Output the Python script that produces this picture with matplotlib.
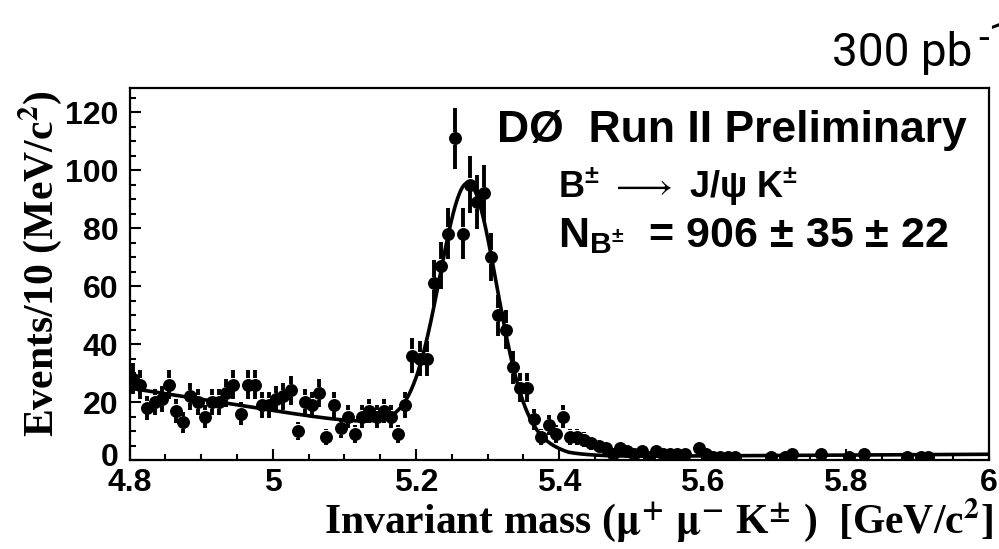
import numpy as np
import matplotlib
matplotlib.use("Agg")
import matplotlib.pyplot as plt
import matplotlib.transforms as mtransforms
from matplotlib.ticker import MultipleLocator

# ---------------- data ----------------
hist_low = 4.80
hist_high = 6.00
bin_width = 0.01

counts = [
    28, 26, 18, 20, 21, 26, 17, 13, 22, 20,   # 4.80-4.90
    15, 20, 20, 23, 26, 16, 26, 26, 19, 19,   # 4.90-5.00
    21, 22, 24, 10, 20, 19, 23, 8, 19, 11,    # 5.00-5.10
    15, 9, 15, 17, 15, 17, 15, 9, 19, 36,     # 5.10-5.20
    35, 35, 61, 67, 78, 111, 78, 95, 89, 92,  # 5.20-5.30
    70, 50, 45, 32, 25, 25, 14, 8, 12, 9,     # 5.30-5.40
    15, 8, 8, 7, 6, 5, 4, 2, 4, 3,            # 5.40-5.50
    2, 3, 1, 3, 2, 2, 2, 2, 0, 4,             # 5.50-5.60
    2, 1, 1, 1, 1, 0, 0, 0, 0, 1,             # 5.60-5.70
    0, 1, 2, 0, 0, 0, 2, 0, 0, 0,             # 5.70-5.80
    1, 0, 2, 0, 0, 0, 0, 0, 1, 0,             # 5.80-5.90
    1, 1, 0, 0, 0, 0, 0, 0, 0, 0,             # 5.90-6.00
]

# fit parameters (signal: double Gaussian; background: linear step + small linear tail)
fit_mean = 5.273
fit_sigma1 = 0.039
fit_amp1 = 81.0
fit_sigma2 = 0.075
fit_amp2 = 8.0
bkg_step_a = 24.5
bkg_step_b = -40.0
bkg_tail_a = 0.3
bkg_tail_b = 1.4

x_ticks = [4.8, 5.0, 5.2, 5.4, 5.6, 5.8, 6.0]
x_tick_labels = ["4.8", "5", "5.2", "5.4", "5.6", "5.8", "6"]
y_ticks = [0, 20, 40, 60, 80, 100, 120]

# ---------------- style ----------------
plt.rcParams['mathtext.fontset'] = 'custom'
plt.rcParams['mathtext.rm'] = 'Liberation Sans:bold'
plt.rcParams['mathtext.bf'] = 'Liberation Sans:bold'
plt.rcParams['mathtext.it'] = 'Liberation Sans:bold'
plt.rcParams['mathtext.sf'] = 'Liberation Sans:bold'

W, H = 999, 549
fig = plt.figure(figsize=(W / 100, H / 100), dpi=100)
fig.patch.set_facecolor('white')

def fx(px):
    return px / W

def fy(py):
    return 1 - py / H

ax_left, ax_right, ax_top, ax_bottom = 129.5, 989.0, 88.0, 460.0
ax = fig.add_axes([fx(ax_left), fy(ax_bottom), (ax_right - ax_left) / W, (ax_bottom - ax_top) / H])
ax.set_xlim(hist_low, hist_high)
ax.set_ylim(0, 128.3)

counts_arr = np.array(counts, dtype=float)
centers = hist_low + bin_width * (np.arange(len(counts_arr)) + 0.5)
mask = counts_arr > 0
xs = centers[mask]
ys = counts_arr[mask]
errs = np.sqrt(ys)

marker_size = 8.3
px_per_unit = (ax.transData.transform((0, 1)) - ax.transData.transform((0, 0)))[1]
gap = (marker_size / 2 * 100 / 72 + 0.8) / px_per_unit

up = errs > gap
ax.vlines(xs[up], ys[up] + gap, ys[up] + errs[up], color='black', lw=2.8, capstyle='butt', zorder=3)
ax.vlines(xs[up], ys[up] - errs[up], ys[up] - gap, color='black', lw=2.8, capstyle='butt', zorder=3)
ax.plot(xs, ys, 'o', color='black', markersize=marker_size, zorder=4, clip_on=True)

m = np.linspace(hist_low, hist_high, 800)
signal = fit_amp1 * np.exp(-0.5 * ((m - fit_mean) / fit_sigma1) ** 2) + \
         fit_amp2 * np.exp(-0.5 * ((m - fit_mean) / fit_sigma2) ** 2)
bkg = np.clip(bkg_step_a + bkg_step_b * (m - hist_low), 0, None) + bkg_tail_a + bkg_tail_b * (m - hist_low)
ax.plot(m, signal + bkg, color='black', lw=2.6, zorder=5)

# axes styling
for side in ['left', 'right', 'top', 'bottom']:
    ax.spines[side].set_linewidth(1.6)
ax.set_xticks(x_ticks)
ax.set_xticklabels(x_tick_labels)
ax.set_yticks(y_ticks)
ax.xaxis.set_minor_locator(MultipleLocator(0.05))
ax.yaxis.set_minor_locator(MultipleLocator(5))
ax.tick_params(which='both', direction='in', top=False, right=False, width=1.5)
ax.tick_params(which='major', length=8)
ax.tick_params(which='minor', length=4.3)
for lab in ax.get_xticklabels() + ax.get_yticklabels():
    lab.set_fontfamily('Liberation Sans')
    lab.set_fontweight('bold')
    lab.set_fontsize(23)
ax.tick_params(axis='x', pad=6)
ax.tick_params(axis='y', pad=8)
# raise the "0" label a little, as in the reference
zero_lab = ax.yaxis.get_major_ticks()[0].label1
zero_lab.set_transform(zero_lab.get_transform() +
                       mtransforms.ScaledTranslation(0, 6 / 100, fig.dpi_scale_trans))

# axis titles (Times-like bold)
fig.text(fx(993), fy(533), r'Invariant mass ($\mathbf{\mu}$$^{\mathbf{+}}$ $\mathbf{\mu}$$^{\mathbf{-}}$ K$^{\mathbf{\pm}}$ )  [GeV/c$^{\mathbf{2}}$]',
         fontfamily='Liberation Serif', fontweight='bold', fontsize=30, ha='right', va='baseline',
         math_fontfamily='stix')
fig.text(fx(53), fy(90), r'Events/10 (MeV/c$^{\mathbf{2}}$)',
         fontfamily='Liberation Serif', fontweight='bold', fontsize=30, rotation=90,
         rotation_mode='anchor', ha='right', va='baseline', math_fontfamily='stix')

# annotations
fig.text(fx(497), fy(142), 'DØ  Run II Preliminary', fontfamily='Liberation Sans',
         fontweight='bold', fontsize=32, ha='left', va='baseline')
fig.text(fx(558), fy(198), r'B$^{\pm}$ $\longrightarrow$ J/$\psi$ K$^{\pm}$', fontfamily='Liberation Sans',
         fontweight='bold', fontsize=26, ha='left', va='baseline')
fig.text(fx(558), fy(247), r'N$_{\mathrm{B^{\pm}}}$  = 906 ± 35 ± 22', fontfamily='Liberation Sans',
         fontweight='bold', fontsize=31, ha='left', va='baseline')

fig.text(fx(832), fy(66), '300 pb', fontfamily=['Roboto', 'DejaVu Sans'], fontweight='normal',
         fontsize=33, ha='left', va='baseline')
fig.text(fx(978), fy(50), '-1', fontfamily=['Roboto', 'DejaVu Sans'], fontweight='normal',
         fontsize=28, ha='left', va='baseline')

fig.savefig('out.png', dpi=100)
